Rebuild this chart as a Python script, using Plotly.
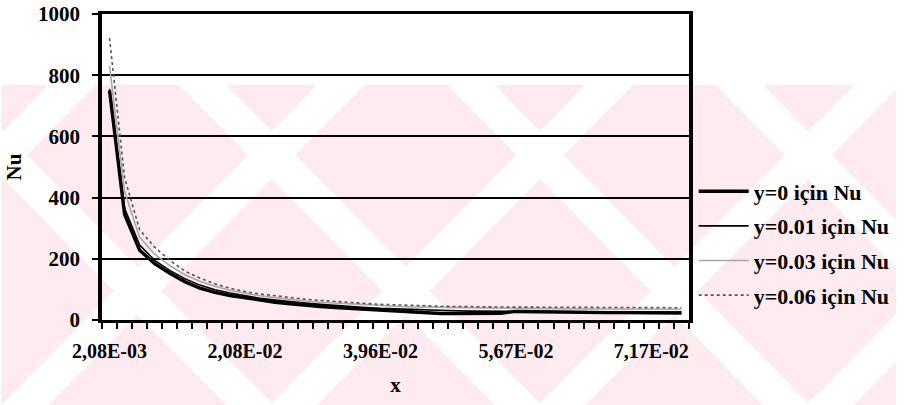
import plotly.graph_objects as go

# x categories (Excel category axis, 39 points)
x_labels = [
    "2,08E-03", "4,16E-03", "6,24E-03", "8,32E-03", "1,04E-02", "1,25E-02",
    "1,46E-02", "1,66E-02", "1,87E-02", "2,08E-02", "2,29E-02", "2,50E-02",
    "2,71E-02", "2,92E-02", "3,13E-02", "3,34E-02", "3,55E-02", "3,75E-02",
    "3,96E-02", "4,15E-02", "4,34E-02", "4,53E-02", "4,72E-02", "4,91E-02",
    "5,10E-02", "5,29E-02", "5,48E-02", "5,67E-02", "5,84E-02", "6,00E-02",
    "6,17E-02", "6,34E-02", "6,50E-02", "6,67E-02", "6,84E-02", "7,00E-02",
    "7,17E-02", "7,34E-02", "7,50E-02",
]
shown_labels = ["2,08E-03", "2,08E-02", "3,96E-02", "5,67E-02", "7,17E-02"]

nu_y0 = [750, 345, 228, 184, 153, 125, 104, 90, 80, 72, 64, 58, 53, 48, 44,
         41, 38, 35, 32, 30, 27, 24, 21, 21, 21, 21, 22, 28, 27, 26, 26, 25,
         25, 24, 24, 24, 23, 23, 23]
nu_y001 = [755, 365, 245, 195, 162, 135, 114, 99, 88, 79, 71, 65, 59, 55, 51,
           47, 44, 41, 38, 36, 34, 32, 31, 30, 29, 29, 28, 28, 28, 27, 27, 27,
           27, 26, 26, 26, 26, 26, 26]
nu_y003 = [830, 420, 270, 215, 178, 148, 127, 110, 97, 87, 79, 73, 67, 62, 58,
           55, 52, 49, 47, 45, 43, 42, 41, 40, 39, 39, 38, 38, 38, 37, 37, 37,
           36, 36, 36, 36, 35, 35, 35]
nu_y006 = [921, 465, 295, 238, 195, 160, 137, 118, 104, 93, 85, 79, 73, 68, 64,
           60, 57, 54, 51, 49, 47, 46, 45, 44, 43, 43, 42, 42, 42, 42, 41, 41,
           41, 41, 41, 40, 40, 40, 40]

series = [
    ("y=0 için Nu", nu_y0, dict(color="black", width=3.4)),
    ("y=0.01 için Nu", nu_y001, dict(color="black", width=1.6)),
    ("y=0.03 için Nu", nu_y003, dict(color="#a8a8a8", width=1.6)),
    ("y=0.06 için Nu", nu_y006, dict(color="#555555", width=1.6, dash="dot")),
]

W, H = 907, 405
L, R, T, B = 102, 697, 14, 320  # plot area in page pixels
FONT = "Liberation Serif, Times New Roman, serif"


def px(x):
    return (x - L) / (R - L)


def py(y):
    return (B - y) / (B - T)


fig = go.Figure()
for i, (name, vals, line) in enumerate(series):
    fig.add_trace(go.Scatter(x=x_labels, y=vals, mode="lines", name=name,
                             line=line, legendgroup=str(i)))

# pale watermark of the scanned page
shapes = []
pink = "#fdebef"
shapes.append(dict(type="path", xref="paper", yref="paper", layer="below",
                   path=f"M {px(0)},{py(85)} L {px(W)},{py(85)} L {px(W)},{py(H)} L {px(0)},{py(H)} Z",
                   fillcolor=pink, line=dict(width=0)))
sw = 48
for xa in [-92, 180, 452, 724]:
    shapes.append(dict(type="path", xref="paper", yref="paper", layer="below",
                       path=(f"M {px(xa)},{py(85)} L {px(xa+sw)},{py(85)} "
                             f"L {px(xa+sw+320)},{py(405)} L {px(xa+320)},{py(405)} Z"),
                       fillcolor="white", line=dict(width=0)))
for xb in [48, 320, 592, 864, 1136]:
    shapes.append(dict(type="path", xref="paper", yref="paper", layer="below",
                       path=(f"M {px(xb)},{py(85)} L {px(xb+sw)},{py(85)} "
                             f"L {px(xb+sw-320)},{py(405)} L {px(xb-320)},{py(405)} Z"),
                       fillcolor="white", line=dict(width=0)))

fig.update_layout(
    width=W, height=H,
    margin=dict(l=L, r=W - R, t=T, b=H - B, pad=0),
    paper_bgcolor="white",
    plot_bgcolor="rgba(0,0,0,0)",
    font=dict(family=FONT, size=20, color="black"),
    shapes=shapes,
    showlegend=True,
    legend=dict(x=1.008, xanchor="left", y=0.25, yanchor="middle",
                font=dict(family=FONT, size=22, color="black", weight="bold"),
                bgcolor="rgba(0,0,0,0)", borderwidth=0, itemwidth=50,
                tracegroupgap=3, traceorder="grouped"),
)
fig.update_xaxes(
    type="category", range=[-0.5, len(x_labels) - 0.5], automargin=False,
    tickmode="array", tickvals=x_labels,
    ticktext=[lab if lab in shown_labels else "" for lab in x_labels],
    tickson="boundaries", ticks="outside", ticklen=6, tickwidth=1.5,
    tickcolor="black", tickangle=0, ticklabelstandoff=11,
    tickfont=dict(family=FONT, size=20, weight="bold"),
    showline=True, linecolor="black", linewidth=3, mirror=True,
    showgrid=False, zeroline=False,
    title=dict(text="x", font=dict(family=FONT, size=21, weight="bold"), standoff=17),
)
fig.update_yaxes(
    range=[0, 1000], tickmode="array", tickvals=[0, 200, 400, 600, 800, 1000],
    automargin=False, ticklabeloverflow="allow",
    ticks="outside", ticklen=6, tickwidth=1.5, tickcolor="black",
    ticklabelstandoff=8,
    tickfont=dict(family=FONT, size=21, weight="bold"),
    showline=True, linecolor="black", linewidth=3.5, mirror=True,
    showgrid=True, gridcolor="black", gridwidth=1.6, zeroline=False,
    title=dict(text="Nu", font=dict(family=FONT, size=21, weight="bold"), standoff=12),
)
fig.write_html("out.html", config={"displayModeBar": False},
               post_script="document.body.style.margin='0px';")
